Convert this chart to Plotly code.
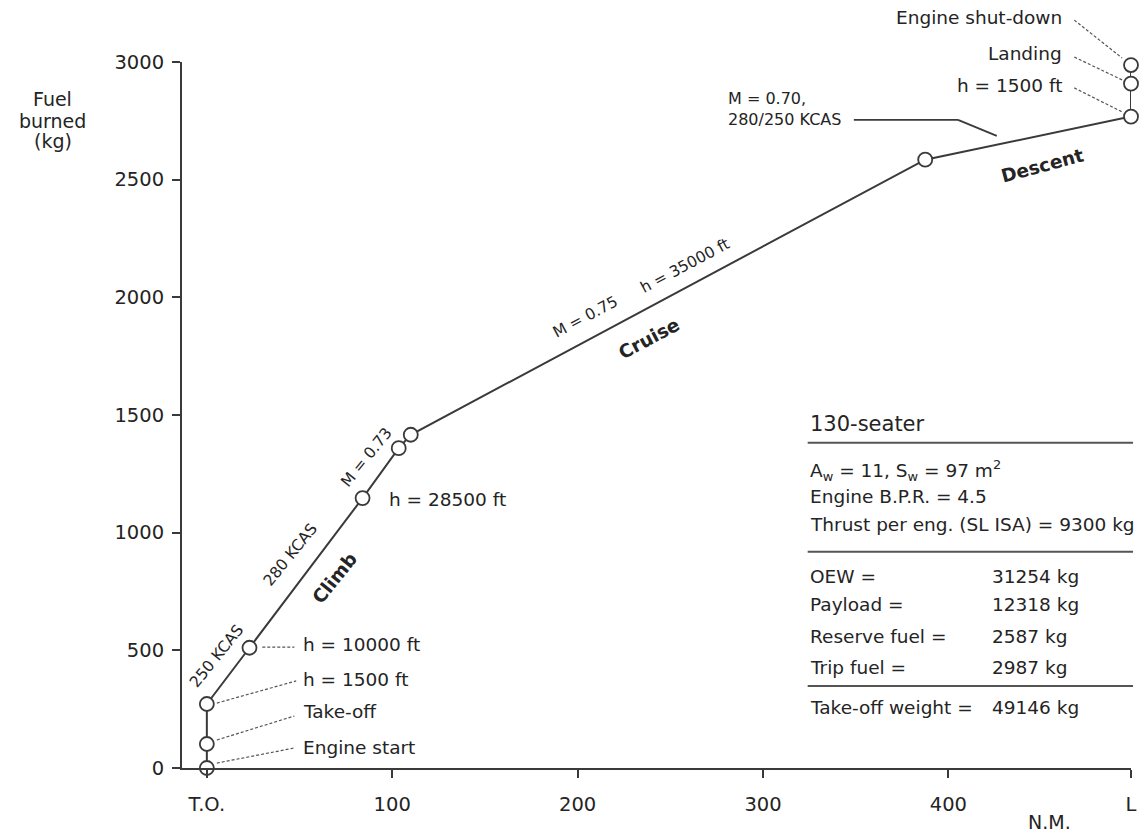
import plotly.graph_objects as go

# ---- data ----
dist_nm = [0, 0, 0, 23, 84, 103.5, 110, 387.5, 498.5, 498.5, 498.5]
fuel_kg = [0, 102, 272, 511, 1147, 1359, 1416, 2585, 2768, 2908, 2987]

x_tickvals = [0, 100, 200, 300, 400, 498.5]
x_ticktext = ["T.O.", "100", "200", "300", "400", "L"]
y_tickvals = [0, 500, 1000, 1500, 2000, 2500, 3000]

XR = [-13.4, 498.5]
YR = [0, 3000]

FONT = "DejaVu Sans"
TXT = "#242424"
LINE = "#3a3a3a"

fig = go.Figure()
fig.add_trace(go.Scatter(
    x=dist_nm, y=fuel_kg, mode="lines+markers",
    line=dict(color=LINE, width=2),
    marker=dict(size=14, color="white", line=dict(color=LINE, width=1.8)),
    cliponaxis=False, hoverinfo="skip", showlegend=False))


def xp(x):
    return (x - XR[0]) / (XR[1] - XR[0])


def yp(y):
    return (y - YR[0]) / (YR[1] - YR[0])


shapes = []


def seg(x0, y0, x1, y1, dash="3px,2px", width=1.2, color="#555"):
    shapes.append(dict(type="line", xref="paper", yref="paper",
                       x0=xp(x0), y0=yp(y0), x1=xp(x1), y1=yp(y1),
                       line=dict(color=color, width=width, dash=dash)))


annos = []


def txt(x, y, s, size=18.5, angle=0, xanchor="center", bold=False, align="center", ref="data"):
    if bold:
        s = "<b>" + s + "</b>"
    d = dict(text=s, showarrow=False, textangle=angle, xanchor=xanchor,
             yanchor="middle", align=align,
             font=dict(family=FONT, size=size, color=TXT))
    if ref == "paper":
        d.update(xref="paper", yref="paper", x=x, y=y)
    elif ref == "dpaper":   # data value, placed through paper coords (outside the y range)
        d.update(xref="paper", yref="paper", x=xp(x), y=yp(y))
    else:
        d.update(xref="x", yref="y", x=x, y=y)
    annos.append(d)


# left point labels
left_labels = [("h = 10000 ft", 523), ("h = 1500 ft", 374), ("Take-off", 238), ("Engine start", 89)]
for s, y in left_labels:
    txt(50.8, y, s, xanchor="left")
seg(29.9, 514, 47.2, 514)
seg(5.4, 276, 48.2, 370)
seg(5.4, 119, 47.2, 221)
seg(5.4, 21, 47.2, 85)

# right point labels
right_labels = [("Engine shut-down", 3187), ("Landing", 3038), ("h = 1500 ft", 2902)]
for s, y in right_labels:
    txt(462.6, y, s, xanchor="right", ref="dpaper")
seg(467.9, 3178, 493.7, 3017)
seg(467.9, 3021, 493.7, 2924)
seg(467.9, 2890, 493.7, 2788)

# segment annotations
txt(5.4, 476, "250 KCAS", size=15.5, angle=-51)
txt(45.0, 905, "280 KCAS", size=15.5, angle=-51)
txt(68.6, 807, "Climb", size=18.5, angle=-51, bold=True)
txt(86.3, 1322, "M = 0.73", size=15.5, angle=-51)
txt(97.0, 1139, "h = 28500 ft", xanchor="left")
txt(204.2, 1916, "M = 0.75", size=15.5, angle=-28)
txt(257.8, 2133, "h = 35000 ft", size=15.5, angle=-28)
txt(238.5, 1827, "Cruise", size=18.5, angle=-28, bold=True)
txt(450.8, 2562, "Descent", size=18.5, angle=-15, bold=True)
txt(280.3, 2802, "M = 0.70,<br>280/250 KCAS", size=16, xanchor="left", align="left")
seg(349.0, 2754, 405.2, 2754, dash="solid", width=1.8, color=LINE)
seg(405.2, 2754, 426.1, 2686, dash="solid", width=1.8, color=LINE)

# info table
TX = 324.5
VX = 422.4
txt(TX, 1462, "130-seater", size=21, xanchor="left")
seg(324.1, 1382, 499.6, 1382, dash="solid", width=2, color="#555")
txt(TX, 1266, "A<sub>w</sub> = 11, S<sub>w</sub> = 97 m<sup>2</sup>", xanchor="left")
txt(TX, 1152, "Engine B.P.R. = 4.5", xanchor="left")
txt(TX, 1033, "Thrust per eng. (SL ISA) = 9300 kg", xanchor="left")
seg(324.1, 919, 499.6, 919, dash="solid", width=2, color="#555")
rows = [("OEW =", "31254 kg", 812), ("Payload =", "12318 kg", 693),
        ("Reserve fuel =", "2587 kg", 557), ("Trip fuel =", "2987 kg", 429)]
for a, b, y in rows:
    txt(TX, y, a, xanchor="left")
    txt(VX, y, b, xanchor="left")
seg(324.1, 348, 499.6, 348, dash="solid", width=2, color="#555")
txt(TX, 255, "Take-off weight =", xanchor="left")
txt(VX, 255, "49146 kg", xanchor="left")

# axis titles
for s, yy in [("Fuel", 0.9476), ("burned", 0.9164), ("(kg)", 0.8881)]:
    txt(-0.136, yy, s, size=19, ref="paper")
txt(0.914, -0.0765, "N.M.", size=19, ref="paper")

fig.update_layout(
    width=1146, height=834,
    margin=dict(l=182, r=9, t=62, b=66),
    plot_bgcolor="white", paper_bgcolor="white",
    shapes=shapes, annotations=annos,
    font=dict(family=FONT, size=18, color=TXT),
)
fig.update_xaxes(range=XR, tickvals=x_tickvals, ticktext=x_ticktext,
                 showline=True, linecolor=LINE, linewidth=2,
                 ticks="outside", ticklen=8, tickwidth=1.5, tickcolor=LINE,
                 showgrid=False, zeroline=False, ticklabelstandoff=10,
                 tickfont=dict(family=FONT, size=19.5, color=TXT))
fig.update_yaxes(range=YR, tickvals=y_tickvals,
                 showline=True, linecolor=LINE, linewidth=2,
                 ticks="outside", ticklen=8, tickwidth=1.5, tickcolor=LINE,
                 showgrid=False, zeroline=False, ticklabelstandoff=4,
                 tickfont=dict(family=FONT, size=19.5, color=TXT))

fig.write_html("out.html")
